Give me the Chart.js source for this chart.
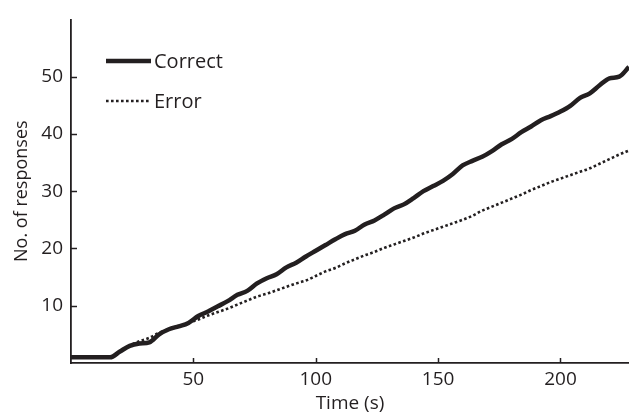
<!DOCTYPE html>
<html>
<head>
<meta charset="utf-8">
<script src="https://cdn.jsdelivr.net/npm/chart.js@4/dist/chart.umd.min.js"></script>
<style>
html,body{margin:0;padding:0;background:#fff;}
#wrap{width:629px;height:415px;position:relative;}
</style>
</head>
<body>
<div id="wrap"><canvas id="c" width="629" height="415"></canvas></div>
<script>
const timeS = [0,8,16,20,24,28,32,36,40,44,48,52,56,60,64,68,72,76,80,84,88,92,96,100,104,108,112,116,120,124,128,132,136,140,144,148,152,156,160,164,168,172,176,180,184,188,192,196,200,204,208,212,216,220,224,228];
const correctResp = [1,1,1,2.0,3.0,3.4,3.6,5.0,5.9,6.4,7.0,8.2,9.0,9.9,10.8,11.9,12.6,13.9,14.8,15.5,16.7,17.5,18.6,19.6,20.6,21.6,22.5,23.1,24.2,24.9,25.9,27.0,27.7,28.8,30.0,30.9,31.8,33.0,34.5,35.3,36.0,37.0,38.2,39.1,40.3,41.3,42.4,43.1,43.9,44.9,46.3,47.1,48.5,49.7,50.0,51.7];
const errorResp = [1,1,1,2.0,3.0,3.8,4.4,5.3,5.9,6.3,7.0,7.6,8.3,8.9,9.5,10.2,10.9,11.6,12.1,12.7,13.3,13.9,14.4,15.2,16.0,16.6,17.4,18.1,18.8,19.4,20.1,20.7,21.3,21.9,22.6,23.2,23.8,24.4,25.0,25.7,26.6,27.3,28.0,28.7,29.4,30.2,30.9,31.6,32.2,32.8,33.4,34.0,34.8,35.6,36.4,37.1];
const xTicks = [50,100,150,200];
const yTicks = [10,20,30,40,50];
const seriesNames = ['Correct','Error'];
const axisTitles = {x:'Time (s)', y:'No. of responses'};

const INK = '#231f20';
const FONT = '"Open Sans", sans-serif';

const inwardTicks = {
  id:'inwardTicks',
  afterDraw(chart){
    const ctx = chart.ctx, a = chart.chartArea;
    ctx.save();
    ctx.strokeStyle = INK; ctx.lineWidth = 1.5;
    const xs = chart.scales.x, ys = chart.scales.y;
    xTicks.forEach(v=>{const p=Math.round(xs.getPixelForValue(v))+0.5;ctx.beginPath();ctx.moveTo(p,a.bottom);ctx.lineTo(p,a.bottom-5);ctx.stroke();});
    yTicks.forEach(v=>{const p=Math.round(ys.getPixelForValue(v))+0.5;ctx.beginPath();ctx.moveTo(a.left,p);ctx.lineTo(a.left+6,p);ctx.stroke();});
    // legend
    ctx.font = '20px ' + FONT;
    ctx.fillStyle = INK;
    ctx.textBaseline = 'middle';
    seriesNames.forEach((name,i)=>{
      const ds = chart.data.datasets.find(d=>d.label===name);
      const y = 61 + i*40;
      ctx.beginPath();
      ctx.lineWidth = ds.borderWidth;
      ctx.setLineDash(ds.borderDash || []);
      ctx.moveTo(106,y); ctx.lineTo(151,y); ctx.stroke();
      ctx.setLineDash([]);
      ctx.fillText(name, 154, y+1);
    });
    ctx.restore();
  }
};

new Chart(document.getElementById('c'), {
  type:'line',
  data:{
    labels: timeS,
    datasets:[
      {label:seriesNames[1], data:timeS.map((t,i)=>({x:t,y:errorResp[i]})), borderColor:INK, borderWidth:2.6, borderDash:[2.6,2.4], pointRadius:0, cubicInterpolationMode:'monotone', fill:false},
      {label:seriesNames[0], data:timeS.map((t,i)=>({x:t,y:correctResp[i]})), borderColor:INK, borderWidth:4.5, pointRadius:0, cubicInterpolationMode:'monotone', fill:false}
    ]
  },
  options:{
    responsive:false, animation:false,
    layout:{padding:{top:14,right:0,left:0,bottom:0}},
    plugins:{legend:{display:false}, tooltip:{enabled:false}},
    scales:{
      x:{type:'linear', min:0, max:228,
        afterBuildTicks(s){ s.ticks = xTicks.map(v=>({value:v})); },
        afterFit(s){ s.height = 52; },
        grid:{display:false, drawTicks:false},
        border:{display:true, color:INK, width:1.8},
        ticks:{color:INK, padding:5, font:{family:FONT, size:19}},
        title:{display:true, text:axisTitles.x, color:INK, font:{family:FONT, size:19}, padding:{top:0,bottom:0}}
      },
      y:{type:'linear', min:0, max:60,
        afterBuildTicks(s){ s.ticks = yTicks.map(v=>({value:v})); },
        afterFit(s){ s.width = 71; },
        grid:{display:false, drawTicks:false},
        border:{display:true, color:INK, width:1.8},
        ticks:{color:INK, padding:8, font:{family:FONT, size:19}},
        title:{display:true, text:axisTitles.y, color:INK, font:{family:FONT, size:18}, padding:{top:11,bottom:0}}
      }
    }
  },
  plugins:[inwardTicks]
});
</script>
</body>
</html>
